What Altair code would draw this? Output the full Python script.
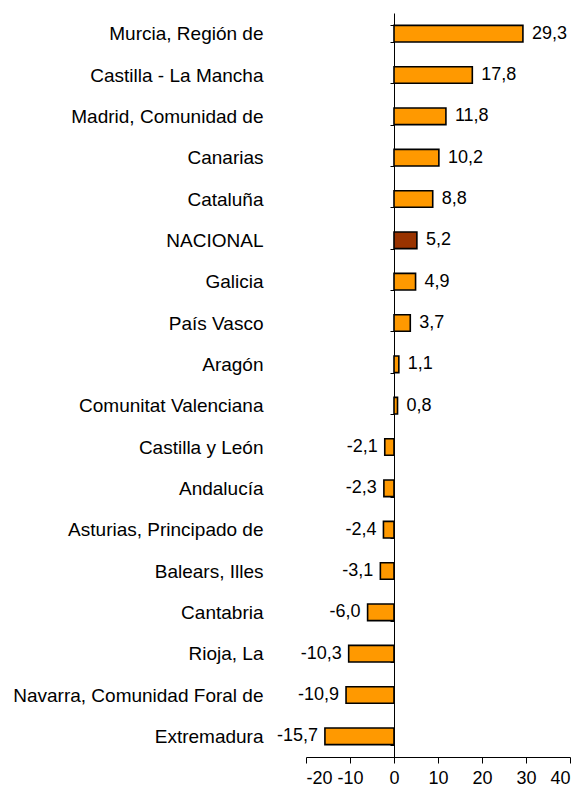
import altair as alt
import pandas as pd

regions = [
    "Murcia, Región de", "Castilla - La Mancha", "Madrid, Comunidad de", "Canarias",
    "Cataluña", "NACIONAL", "Galicia", "País Vasco", "Aragón", "Comunitat Valenciana",
    "Castilla y León", "Andalucía", "Asturias, Principado de", "Balears, Illes",
    "Cantabria", "Rioja, La", "Navarra, Comunidad Foral de", "Extremadura",
]
values = [29.3, 17.8, 11.8, 10.2, 8.8, 5.2, 4.9, 3.7, 1.1, 0.8,
          -2.1, -2.3, -2.4, -3.1, -6.0, -10.3, -10.9, -15.7]
x_ticks = [-20, -10, 0, 10, 20, 30, 40]

df = pd.DataFrame({"region": regions, "value": values})
df["label"] = df["value"].map(lambda v: f"{v:.1f}".replace(".", ","))
df["kind"] = ["nac" if r == "NACIONAL" else "ccaa" for r in regions]

FONT = "Liberation Sans"
W, H = 264, 744
ZERO_OFFSET = -W / 3.0  # zero sits one third of the way along [-20, 40]

x_scale = alt.Scale(domain=[-20, 40], nice=False, zero=False)
y_scale = alt.Scale(domain=regions, paddingInner=0.6, paddingOuter=0.3)

base = alt.Chart(df)

bars = base.mark_bar(stroke="black", strokeWidth=1.6).encode(
    x=alt.X("value:Q", scale=x_scale,
            axis=alt.Axis(values=x_ticks, title=None, grid=False, domainColor="black",
                          tickColor="black", tickSize=6, labelFontSize=18, labelFont=FONT,
                          labelColor="black", labelPadding=6, domainWidth=1,
                          labelExpr="datum.value < 0 ? '-' + abs(datum.value) : '' + datum.value")),
    y=alt.Y("region:N", scale=y_scale, sort=regions,
            axis=alt.Axis(title=None, orient="left", offset=ZERO_OFFSET, domainColor="black",
                          domainWidth=1, tickColor="black", tickSize=4, tickBand="extent",
                          labelFontSize=19, labelFont=FONT, labelColor="black",
                          labelPadding=127, labelLimit=400)),
    color=alt.Color("kind:N", scale=alt.Scale(domain=["ccaa", "nac"],
                                              range=["#FF9900", "#993300"]), legend=None),
)

pos_text = base.transform_filter(alt.datum.value >= 0).mark_text(
    align="left", baseline="middle", dx=9, fontSize=18, font=FONT, color="black"
).encode(x=alt.X("value:Q", scale=x_scale), y=alt.Y("region:N", scale=y_scale, sort=regions),
         text="label:N")

neg_text = base.transform_filter(alt.datum.value < 0).mark_text(
    align="right", baseline="middle", dx=-7, fontSize=18, font=FONT, color="black"
).encode(x=alt.X("value:Q", scale=x_scale), y=alt.Y("region:N", scale=y_scale, sort=regions),
         text="label:N")

chart = alt.layer(bars, pos_text, neg_text).properties(
    width=W, height=H,
    autosize=alt.AutoSizeParams(type="none"),
    padding={"left": 298, "top": 5, "right": 9, "bottom": 29},
).configure_view(stroke=None)

chart.save("out.html", embed_options={"renderer": "svg", "actions": False})
